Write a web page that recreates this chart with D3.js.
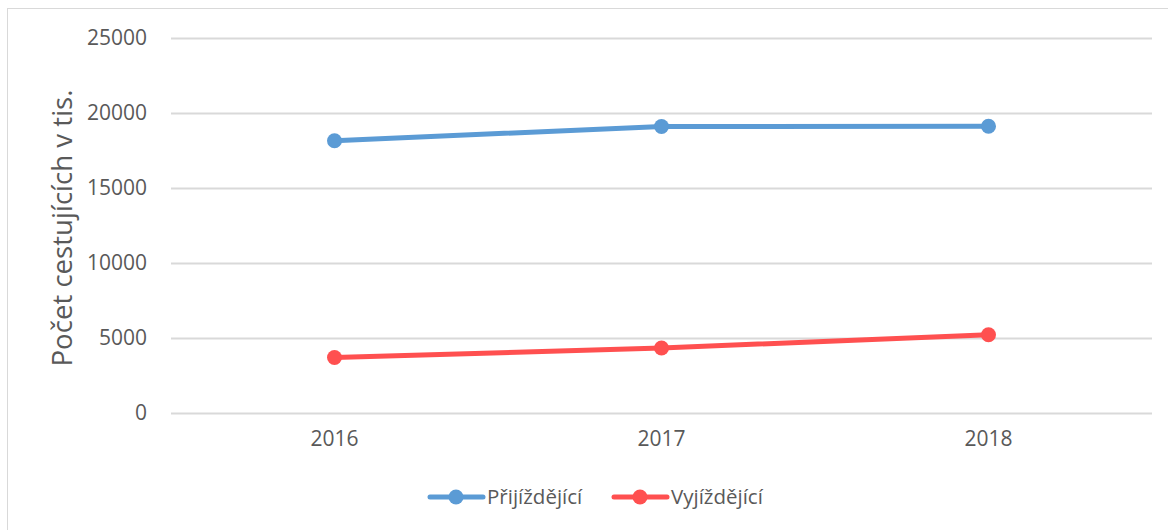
<!DOCTYPE html>
<html>
<head>
<meta charset="utf-8">
<script src="https://cdn.jsdelivr.net/npm/d3@7"></script>
<style>
  body { margin: 0; background: #fff; }
  text { font-family: "Open Sans", sans-serif; fill: #595959; }
</style>
</head>
<body>
<div id="chart"></div>
<script>
const years = ["2016", "2017", "2018"];
const prijizdejici = [18150, 19100, 19120];
const vyjizdejici = [3700, 4330, 5220];
const yTicks = [0, 5000, 10000, 15000, 20000, 25000];
const seriesNames = ["Přijíždějící", "Vyjíždějící"];
const colors = ["#5b9bd5", "#ff5050"];

const width = 1168;
const height = 530;
const margin = { top: 38, right: 16, bottom: 117, left: 171 };

const svg = d3.select("#chart")
  .append("svg")
  .attr("width", width)
  .attr("height", height);

// chart frame
svg.append("rect")
  .attr("x", 7.5).attr("y", 8.5)
  .attr("width", width).attr("height", height)
  .attr("fill", "none")
  .attr("stroke", "#d9d9d9");

const x = d3.scaleBand()
  .domain(years)
  .range([margin.left, width - margin.right]);

const y = d3.scaleLinear()
  .domain([0, 25000])
  .range([height - margin.bottom, margin.top]);

// grid + y labels
const yAxis = d3.axisLeft(y)
  .tickValues(yTicks)
  .tickFormat(d3.format("d"))
  .tickSize(-(width - margin.left - margin.right))
  .tickPadding(24);

svg.append("g")
  .attr("transform", "translate(" + margin.left + ",0)")
  .call(yAxis)
  .call(g => g.select(".domain").remove())
  .call(g => g.selectAll("line").attr("stroke", "#d9d9d9").attr("stroke-width", 2))
  .call(g => g.selectAll("text").style("font-size", "21px").attr("fill", "#595959"));

const xAxis = d3.axisBottom(x).tickSize(0).tickPadding(18);

svg.append("g")
  .attr("transform", "translate(0," + y(0) + ")")
  .call(xAxis)
  .call(g => g.select(".domain").remove())
  .call(g => g.selectAll("text").style("font-size", "21px").attr("fill", "#595959"));

// y axis title
svg.append("text")
  .attr("transform", "translate(72,228) rotate(-90)")
  .attr("text-anchor", "middle")
  .attr("textLength", 277)
  .attr("lengthAdjust", "spacingAndGlyphs")
  .style("font-size", "27px")
  .text("Počet cestujících v tis.");

const cx = d => x(d) + x.bandwidth() / 2;
const line = d3.line()
  .x((d, i) => cx(years[i]))
  .y(d => y(d));

[prijizdejici, vyjizdejici].forEach((vals, k) => {
  svg.append("path")
    .datum(vals)
    .attr("d", line)
    .attr("fill", "none")
    .attr("stroke", colors[k])
    .attr("stroke-width", 5)
    .attr("stroke-linecap", "round");

  svg.selectAll(".pt" + k)
    .data(vals)
    .enter()
    .append("circle")
    .attr("cx", (d, i) => cx(years[i]))
    .attr("cy", d => y(d))
    .attr("r", 7.5)
    .attr("fill", colors[k]);
});

// legend
const legendX = [428, 612];
seriesNames.forEach((name, k) => {
  const g = svg.append("g").attr("transform", "translate(" + legendX[k] + ",497)");
  g.append("line")
    .attr("x1", 2).attr("x2", 55)
    .attr("stroke", colors[k])
    .attr("stroke-width", 5)
    .attr("stroke-linecap", "round");
  g.append("circle").attr("cx", 28).attr("r", 7.5).attr("fill", colors[k]);
  g.append("text")
    .attr("x", 59)
    .attr("dy", "0.35em")
    .style("font-size", "20.5px")
    .text(name);
});
</script>
</body>
</html>
